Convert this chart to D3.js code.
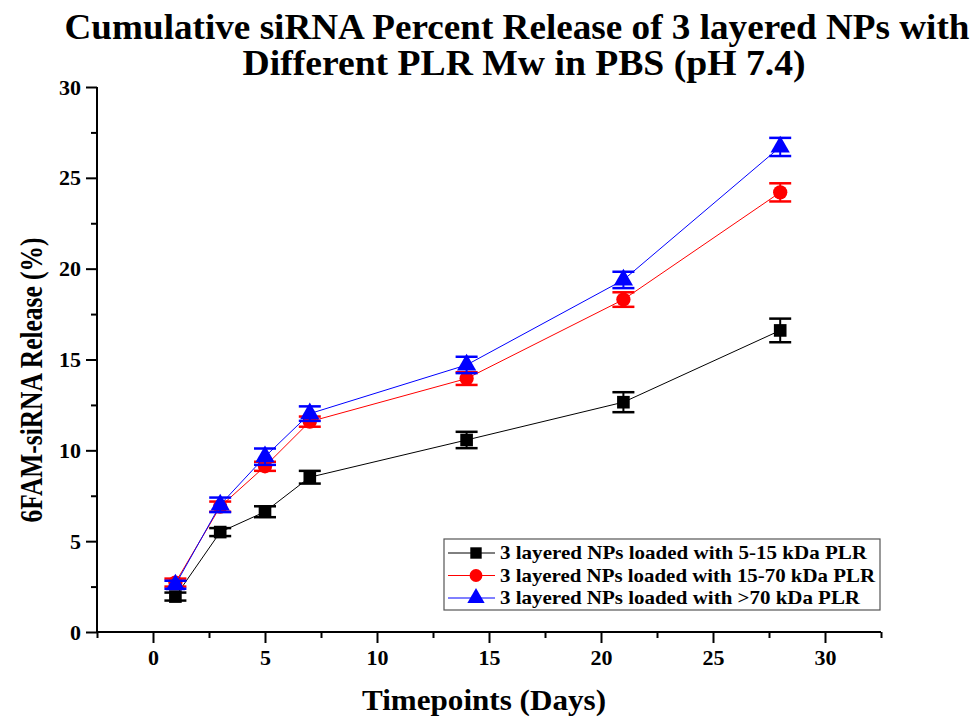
<!DOCTYPE html>
<html>
<head>
<meta charset="utf-8">
<script src="https://cdn.jsdelivr.net/npm/d3@7"></script>
<style>
  body { margin: 0; background: #fff; }
  svg text { font-family: "Liberation Serif", "Times New Roman", serif; font-weight: bold; }
</style>
</head>
<body>
<svg id="chart" width="973" height="719"></svg>
<script>
// datos
const days = [1, 3, 5, 7, 14, 21, 28]
const names = [
    "3 layered NPs loaded with 5-15 kDa PLR",
    "3 layered NPs loaded with 15-70 kDa PLR",
    "3 layered NPs loaded with >70 kDa PLR"
]
const low = [1.95, 5.5, 6.62, 8.52, 10.57, 12.65, 16.6]
const lowErr = [0.22, 0.22, 0.3, 0.35, 0.45, 0.55, 0.65]
const mid = [2.72, 6.9, 9.12, 11.58, 13.95, 18.3, 24.2]
const midErr = [0.22, 0.28, 0.25, 0.28, 0.35, 0.4, 0.5]
const high = [2.6, 7.0, 9.65, 12.02, 14.7, 19.38, 26.7]
const highErr = [0.22, 0.4, 0.45, 0.4, 0.45, 0.45, 0.5]
const xTicks = [0, 5, 10, 15, 20, 25, 30]
const yTicks = [0, 5, 10, 15, 20, 25, 30]

const colors = ["#000000", "#ff0000", "#0000ff"]
const series = [
    { name: names[0], values: low, err: lowErr, color: colors[0], shape: d3.symbolSquare, legLen: 367 },
    { name: names[1], values: mid, err: midErr, color: colors[1], shape: d3.symbolCircle, legLen: 375 },
    { name: names[2], values: high, err: highErr, color: colors[2], shape: d3.symbolTriangle, legLen: 360 }
]

const svg = d3.select("#chart")

// escalas
const x = d3.scaleLinear().domain([-2.5, 32.5]).range([97, 881])
const y = d3.scaleLinear().domain([0, 30]).range([632, 87])

// titulo (fuente condensada como en el original)
svg.append("text")
    .attr("x", 517).attr("y", 39)
    .attr("text-anchor", "middle")
    .attr("font-size", 35)
    .attr("textLength", 905).attr("lengthAdjust", "spacingAndGlyphs")
    .text("Cumulative siRNA Percent Release of 3 layered NPs with")
svg.append("text")
    .attr("x", 524).attr("y", 75)
    .attr("text-anchor", "middle")
    .attr("font-size", 35)
    .attr("textLength", 563).attr("lengthAdjust", "spacingAndGlyphs")
    .text("Different PLR Mw in PBS (pH 7.4)")

// eje X
const xAxis = svg.append("g")
    .attr("transform", `translate(0,${y(0)})`)
    .call(d3.axisBottom(x).tickValues(xTicks).tickSize(11).tickPadding(6))
xAxis.append("g").call(d3.axisBottom(x)
    .tickValues(d3.range(-2.5, 33, 5)).tickSize(6).tickFormat(""))
xAxis.selectAll("path.domain").attr("d", `M${x(-2.5)},0H${x(32.5)}`)

// eje Y
const yAxis = svg.append("g")
    .attr("transform", `translate(${x(-2.5)},0)`)
    .call(d3.axisLeft(y).tickValues(yTicks).tickSize(11).tickPadding(5))
yAxis.append("g").call(d3.axisLeft(y)
    .tickValues(d3.range(2.5, 30, 5)).tickSize(6).tickFormat(""))
yAxis.selectAll("path.domain").attr("d", `M0,${y(0)}V${y(30)}`)

svg.selectAll(".tick line, .domain").attr("stroke", "#000").attr("stroke-width", 2)
svg.selectAll(".tick text")
    .attr("font-size", 22)
    .attr("font-family", "Liberation Serif")
    .attr("font-weight", "bold")
    .attr("fill", "#000")

// titulos de ejes
svg.append("text")
    .attr("x", 484).attr("y", 710)
    .attr("text-anchor", "middle")
    .attr("font-size", 30)
    .attr("textLength", 244).attr("lengthAdjust", "spacingAndGlyphs")
    .text("Timepoints (Days)")
svg.append("text")
    .attr("transform", "translate(42,380) rotate(-90)")
    .attr("text-anchor", "middle")
    .attr("font-size", 31)
    .attr("textLength", 285).attr("lengthAdjust", "spacingAndGlyphs")
    .text("6FAM-siRNA Release (%)")

// lineas, barras de error y marcadores
const line = d3.line().x(d => x(d.day)).y(d => y(d.v))
const capW = 11

series.forEach(s => {
    const pts = days.map((d, i) => ({ day: d, v: s.values[i], e: s.err[i] }))
    const g = svg.append("g")
    g.append("path")
        .datum(pts)
        .attr("d", line)
        .attr("fill", "none")
        .attr("stroke", s.color)
        .attr("stroke-width", 1)
    const eb = g.selectAll("g.err").data(pts).join("g").attr("class", "err")
    eb.append("line")
        .attr("x1", d => x(d.day)).attr("x2", d => x(d.day))
        .attr("y1", d => y(d.v - d.e)).attr("y2", d => y(d.v + d.e))
        .attr("stroke", s.color).attr("stroke-width", 2)
    eb.append("line")
        .attr("x1", d => x(d.day) - capW).attr("x2", d => x(d.day) + capW)
        .attr("y1", d => y(d.v + d.e)).attr("y2", d => y(d.v + d.e))
        .attr("stroke", s.color).attr("stroke-width", 2.5)
    eb.append("line")
        .attr("x1", d => x(d.day) - capW).attr("x2", d => x(d.day) + capW)
        .attr("y1", d => y(d.v - d.e)).attr("y2", d => y(d.v - d.e))
        .attr("stroke", s.color).attr("stroke-width", 2.5)
    g.selectAll("path.mk").data(pts).join("path")
        .attr("class", "mk")
        .attr("d", d3.symbol().type(s.shape).size(160))
        .attr("transform", d => `translate(${x(d.day)},${y(d.v)})`)
        .attr("fill", s.color)
})

// leyenda
const leg = svg.append("g")
leg.append("rect")
    .attr("x", 444).attr("y", 539).attr("width", 436).attr("height", 71)
    .attr("fill", "#fff").attr("stroke", "#555").attr("stroke-width", 1.2)
series.forEach((s, i) => {
    const ly = 553 + i * 22.5
    leg.append("line")
        .attr("x1", 448).attr("x2", 495).attr("y1", ly).attr("y2", ly)
        .attr("stroke", s.color).attr("stroke-width", 1)
    leg.append("path")
        .attr("d", d3.symbol().type(s.shape).size(130))
        .attr("transform", `translate(476,${ly})`)
        .attr("fill", s.color)
    leg.append("text")
        .attr("x", 500).attr("y", ly + 6)
        .attr("font-size", 19)
        .attr("textLength", s.legLen).attr("lengthAdjust", "spacingAndGlyphs")
        .text(s.name)
})
</script>
</body>
</html>
